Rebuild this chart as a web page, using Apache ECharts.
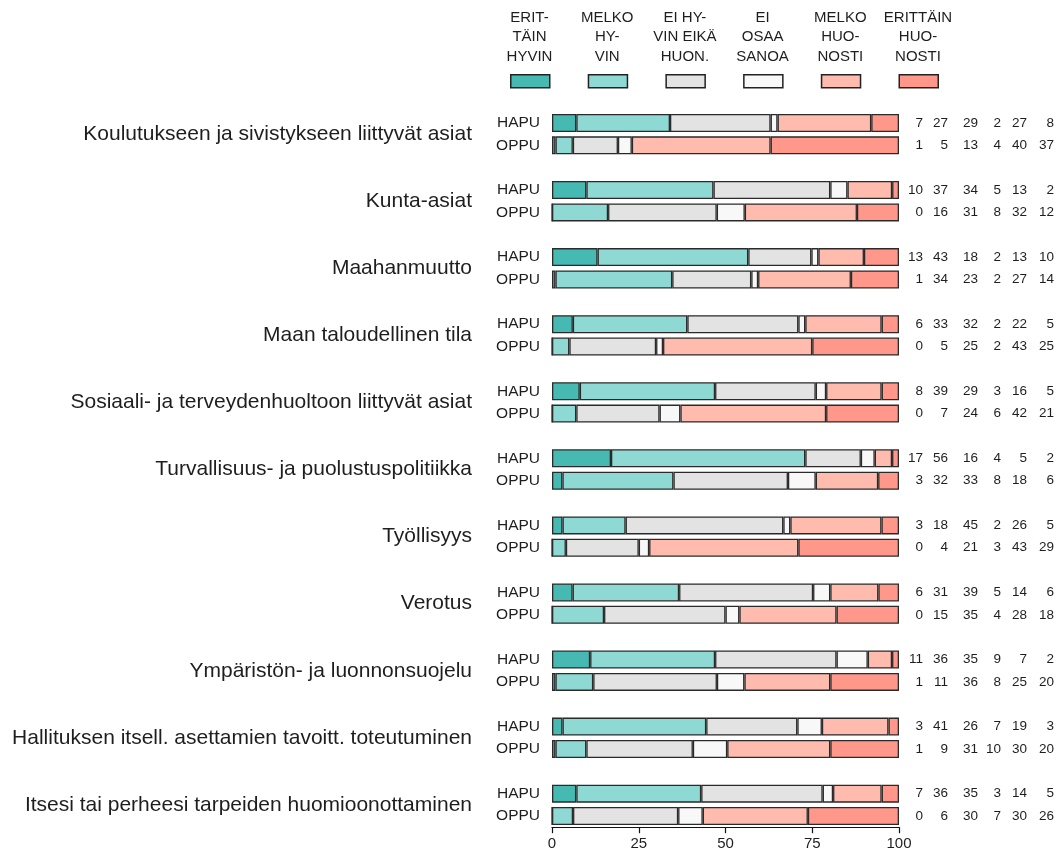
<!DOCTYPE html>
<html>
<head>
<meta charset="utf-8">
<script src="https://cdn.jsdelivr.net/npm/echarts@6/dist/echarts.min.js"></script>
<style>
html,body{margin:0;padding:0;background:#fff;}
#chart{width:1063px;height:856px;}
</style>
</head>
<body>
<div id="chart"></div>
<script>
// ---- data ----
const topics = [
  'Koulutukseen ja sivistykseen liittyvät asiat',
  'Kunta-asiat',
  'Maahanmuutto',
  'Maan taloudellinen tila',
  'Sosiaali- ja terveydenhuoltoon liittyvät asiat',
  'Turvallisuus- ja puolustuspolitiikka',
  'Työllisyys',
  'Verotus',
  'Ympäristön- ja luonnonsuojelu',
  'Hallituksen itsell. asettamien tavoitt. toteutuminen',
  'Itsesi tai perheesi tarpeiden huomioonottaminen'
];
const groups = ['HAPU', 'OPPU'];
const responseNames = ['Erittäin hyvin', 'Melko hyvin', 'Ei hyvin eikä huonosti', 'Ei osaa sanoa', 'Melko huonosti', 'Erittäin huonosti'];
const legendLabels = ['ERIT-\nTÄIN\nHYVIN', 'MELKO\nHY-\nVIN', 'EI HY-\nVIN EIKÄ\nHUON.', 'EI\nOSAA\nSANOA', 'MELKO\nHUO-\nNOSTI', 'ERITTÄIN\nHUO-\nNOSTI'];
const hapuValues = [
  [7, 27, 29, 2, 27, 8],
  [10, 37, 34, 5, 13, 2],
  [13, 43, 18, 2, 13, 10],
  [6, 33, 32, 2, 22, 5],
  [8, 39, 29, 3, 16, 5],
  [17, 56, 16, 4, 5, 2],
  [3, 18, 45, 2, 26, 5],
  [6, 31, 39, 5, 14, 6],
  [11, 36, 35, 9, 7, 2],
  [3, 41, 26, 7, 19, 3],
  [7, 36, 35, 3, 14, 5]
];
const oppuValues = [
  [1, 5, 13, 4, 40, 37],
  [0, 16, 31, 8, 32, 12],
  [1, 34, 23, 2, 27, 14],
  [0, 5, 25, 2, 43, 25],
  [0, 7, 24, 6, 42, 21],
  [3, 32, 33, 8, 18, 6],
  [0, 4, 21, 3, 43, 29],
  [0, 15, 35, 4, 28, 18],
  [1, 11, 36, 8, 25, 20],
  [1, 9, 31, 10, 30, 20],
  [0, 6, 30, 7, 30, 26]
];
const xTicks = { min: 0, max: 100, interval: 25 };

// ---- styles ----
const colors = ['#45B9B2', '#8ED9D4', '#E3E3E3', '#F8F8F8', '#FFBBAE', '#FF988A'];
const FONT = 'Liberation Sans, Arial, sans-serif';
const TXT = '#1e1e1e';
const numRightMargins = [24, 49, 79, 102, 128, 155];

// rows: HAPU, OPPU, spacer per topic
const rowKeys = [];
topics.forEach((t, i) => {
  rowKeys.push(i + '|HAPU');
  rowKeys.push(i + '|OPPU');
  if (i < topics.length - 1) rowKeys.push(i + '|gap');
});
function rowValues(key) {
  const [i, kind] = key.split('|');
  if (kind === 'HAPU') return hapuValues[+i];
  if (kind === 'OPPU') return oppuValues[+i];
  return null;
}

const series = responseNames.map((name, k) => ({
  name: name,
  type: 'bar',
  stack: 'total',
  yAxisIndex: 0,
  barWidth: 18,
  animation: false,
  itemStyle: { color: colors[k], borderColor: '#2a2a2a', borderWidth: 1.3 },
  emphasis: { disabled: true },
  data: rowKeys.map(key => {
    const v = rowValues(key);
    if (!v) return '-';
    const sum = v.reduce((a, b) => a + b, 0);
    return v[k] * 100 / sum;
  })
}));

const baseY = {
  type: 'category',
  data: rowKeys,
  inverse: true,
  axisLine: { show: false },
  axisTick: { show: false },
  splitLine: { show: false }
};

const yAxes = [
  Object.assign({}, baseY, {
    position: 'left',
    axisLabel: {
      interval: 0, margin: 12, fontSize: 15.5, fontFamily: FONT, color: TXT,
      formatter: key => { const k = key.split('|')[1]; return k === 'gap' ? '' : k; }
    }
  }),
  Object.assign({}, baseY, {
    position: 'left',
    axisLabel: {
      interval: 0, margin: 80, align: 'right', color: TXT,
      formatter: key => { const [i, k] = key.split('|'); return k === 'HAPU' ? '{g|' + topics[+i] + '}' : ''; },
      rich: { g: { fontSize: 21, fontFamily: FONT, color: TXT, padding: [22.4, 0, 0, 0] } }
    }
  })
];
numRightMargins.forEach((m, c) => {
  yAxes.push(Object.assign({}, baseY, {
    position: 'right',
    axisLabel: {
      interval: 0, margin: m, align: 'right', fontSize: 13.5, fontFamily: FONT, color: TXT,
      formatter: key => { const v = rowValues(key); return v ? String(v[c]) : ''; }
    }
  }));
});

const legends = responseNames.map((n, k) => ({
  data: [n],
  left: 510 + k * 77.7,
  top: 74,
  padding: 0,
  itemWidth: 39,
  itemHeight: 13,
  selectedMode: false,
  icon: 'rect',
  formatter: () => '',
  textStyle: { fontSize: 1 },
  itemStyle: { borderColor: '#222', borderWidth: 1.5 }
}));

const graphics = legendLabels.map((t, k) => ({
  type: 'text',
  x: 529.5 + k * 77.7,
  y: 8,
  style: {
    text: t, fill: TXT, font: '15px ' + FONT,
    textAlign: 'center', align: 'center', textVerticalAlign: 'top', verticalAlign: 'top',
    lineHeight: 19.5
  }
}));

const chart = echarts.init(document.getElementById('chart'), null, { renderer: 'canvas' });
chart.setOption({
  backgroundColor: '#ffffff',
  animation: false,
  grid: { left: 552, right: 164, top: 111.8, bottom: 28.8, containLabel: false },
  xAxis: {
    type: 'value', min: xTicks.min, max: xTicks.max, interval: xTicks.interval,
    axisLine: { show: true, lineStyle: { color: '#111', width: 1.2 } },
    axisTick: { show: true, length: 6, lineStyle: { color: '#111', width: 1.2 } },
    splitLine: { show: false },
    axisLabel: { fontSize: 15, fontFamily: FONT, color: TXT, margin: 9 }
  },
  yAxis: yAxes,
  legend: legends,
  graphic: graphics,
  series: series
});
</script>
</body>
</html>
